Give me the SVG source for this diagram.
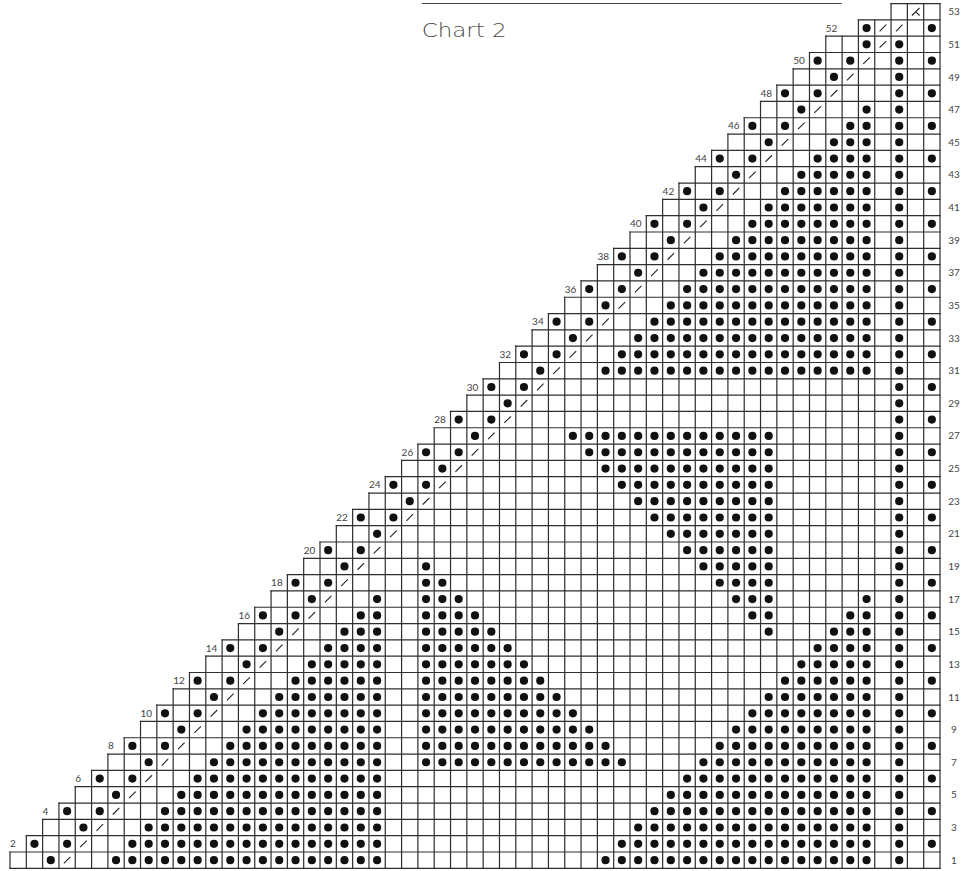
<svg xmlns="http://www.w3.org/2000/svg" width="975" height="871" viewBox="0 0 975 871">
<style>
.grid{fill:none;stroke:#2e2e2e;stroke-width:1.2;stroke-linecap:square}
.dots{fill:none;stroke:#111;stroke-width:8.2;stroke-linecap:round;stroke-dasharray:0 16.316}
.dot2{fill:none;stroke:#111;stroke-width:8.2;stroke-linecap:round}
.sl{fill:none;stroke:#222;stroke-width:1.1;stroke-linecap:butt}
.lab{font-family:Lato,'Open Sans','DejaVu Sans',sans-serif;font-size:10px;fill:#444}
.r{text-anchor:middle}
.title{font-family:'DejaVu Sans',Lato,sans-serif;font-weight:200;font-size:19.5px;fill:#4a4a4a}
</style>
<rect width="975" height="871" fill="#fff"/>
<g id="title">
<line x1="421.7" y1="3.5" x2="841.7" y2="3.5" stroke="#444" stroke-width="1"/>
<text class="title" x="421.7" y="37.4" textLength="85" lengthAdjust="spacingAndGlyphs">Chart 2</text>
</g>
<g id="grid">
<path class="grid" d="M10 868.3V851.984M26.316 868.3V835.668M42.632 868.3V819.352M58.948 868.3V803.036M75.264 868.3V786.72M91.58 868.3V770.404M107.896 868.3V754.088M124.212 868.3V737.772M140.528 868.3V721.456M156.844 868.3V705.14M173.16 868.3V688.824M189.476 868.3V672.508M205.792 868.3V656.192M222.108 868.3V639.876M238.424 868.3V623.56M254.74 868.3V607.244M271.056 868.3V590.928M287.372 868.3V574.612M303.688 868.3V558.296M320.004 868.3V541.98M336.32 868.3V525.664M352.636 868.3V509.348M368.952 868.3V493.032M385.268 868.3V476.716M401.584 868.3V460.4M417.9 868.3V444.084M434.216 868.3V427.768M450.532 868.3V411.452M466.848 868.3V395.136M483.164 868.3V378.82M499.48 868.3V362.504M515.796 868.3V346.188M532.112 868.3V329.872M548.428 868.3V313.556M564.744 868.3V297.24M581.06 868.3V280.924M597.376 868.3V264.608M613.692 868.3V248.292M630.008 868.3V231.976M646.324 868.3V215.66M662.64 868.3V199.344M678.956 868.3V183.028M695.272 868.3V166.712M711.588 868.3V150.396M727.904 868.3V134.08M744.22 868.3V117.764M760.536 868.3V101.448M776.852 868.3V85.132M793.168 868.3V68.816M809.484 868.3V52.5M825.8 868.3V36.184M842.116 868.3V36.184M858.432 868.3V19.868M874.748 868.3V19.868M891.064 868.3V3.552M907.38 868.3V3.552M923.696 868.3V3.552M940.012 868.3V3.552"/>
<path class="grid" d="M10 868.3H940.012M10 851.984H940.012M26.316 835.668H940.012M42.632 819.352H940.012M58.948 803.036H940.012M75.264 786.72H940.012M91.58 770.404H940.012M107.896 754.088H940.012M124.212 737.772H940.012M140.528 721.456H940.012M156.844 705.14H940.012M173.16 688.824H940.012M189.476 672.508H940.012M205.792 656.192H940.012M222.108 639.876H940.012M238.424 623.56H940.012M254.74 607.244H940.012M271.056 590.928H940.012M287.372 574.612H940.012M303.688 558.296H940.012M320.004 541.98H940.012M336.32 525.664H940.012M352.636 509.348H940.012M368.952 493.032H940.012M385.268 476.716H940.012M401.584 460.4H940.012M417.9 444.084H940.012M434.216 427.768H940.012M450.532 411.452H940.012M466.848 395.136H940.012M483.164 378.82H940.012M499.48 362.504H940.012M515.796 346.188H940.012M532.112 329.872H940.012M548.428 313.556H940.012M564.744 297.24H940.012M581.06 280.924H940.012M597.376 264.608H940.012M613.692 248.292H940.012M630.008 231.976H940.012M646.324 215.66H940.012M662.64 199.344H940.012M678.956 183.028H940.012M695.272 166.712H940.012M711.588 150.396H940.012M727.904 134.08H940.012M744.22 117.764H940.012M760.536 101.448H940.012M776.852 85.132H940.012M793.168 68.816H940.012M809.484 52.5H940.012M825.8 36.184H940.012M858.432 19.868H940.012M891.064 3.552H940.012"/>
</g>
<g id="dots">
<path class="dots" d="M116.054 860.142H378.1M132.37 843.826H378.1M148.686 827.51H378.1M165.002 811.194H378.1M181.318 794.878H378.1M197.634 778.562H378.1M213.95 762.246H378.1M230.266 745.93H378.1M246.582 729.614H378.1M262.898 713.298H378.1M279.214 696.982H378.1M295.53 680.666H378.1M311.846 664.35H378.1M328.162 648.034H378.1M344.478 631.718H378.1M360.794 615.402H378.1M377.11 599.086H378.1"/>
<path class="dots" d="M426.058 762.246H622.85M426.058 745.93H606.534M426.058 729.614H590.218M426.058 713.298H573.902M426.058 696.982H557.586M426.058 680.666H541.27M426.058 664.35H524.954M426.058 648.034H508.638M426.058 631.718H492.322M426.058 615.402H476.006M426.058 599.086H459.69M426.058 582.77H443.374M426.058 566.454H427.058"/>
<path class="dots" d="M605.534 860.142H867.59M621.85 843.826H867.59M638.166 827.51H867.59M654.482 811.194H867.59M670.798 794.878H867.59M687.114 778.562H867.59M703.43 762.246H867.59M719.746 745.93H867.59M736.062 729.614H867.59M752.378 713.298H867.59M768.694 696.982H867.59M785.01 680.666H867.59M801.326 664.35H867.59M817.642 648.034H867.59M833.958 631.718H867.59M850.274 615.402H867.59M866.59 599.086H867.59"/>
<path class="dots" d="M768.694 631.718H769.694M752.378 615.402H769.694M736.062 599.086H769.694M719.746 582.77H769.694M703.43 566.454H769.694M687.114 550.138H769.694M670.798 533.822H769.694M654.482 517.506H769.694M638.166 501.19H769.694M621.85 484.874H769.694M605.534 468.558H769.694M589.218 452.242H769.694M572.902 435.926H769.694"/>
<path class="dots" d="M605.534 370.662H867.59M621.85 354.346H867.59M638.166 338.03H867.59M654.482 321.714H867.59M670.798 305.398H867.59M687.114 289.082H867.59M703.43 272.766H867.59M719.746 256.45H867.59M736.062 240.134H867.59M752.378 223.818H867.59M768.694 207.502H867.59M785.01 191.186H867.59M801.326 174.87H867.59M817.642 158.554H867.59M833.958 142.238H867.59M850.274 125.922H867.59M866.59 109.606H867.59"/>
<path class="dots" d="M899.222 860.142V43.3"/>
<path class="dot2" stroke-dasharray="0 32.632" d="M931.854 843.826V27"/>
<path class="dot2" stroke-dasharray="0 23.0743" d="M50.79 860.142L867.29 43.642"/>
<path class="dot2" stroke-dasharray="0 46.1486" d="M34.474 843.826L818.342 59.958"/>
<circle cx="866.59" cy="28.026" r="4.1" fill="#111"/>
</g>
<g id="slashes">
<path class="sl" stroke-dasharray="9.334 13.7403" d="M63.806 863.442L902.522 24.726"/>
<path class="sl" d="M879.606 31.326L886.206 24.726"/>
<path class="sl" d="M911.9 15.5L919.6 7.9M915.5 11.6L919.6 15.5"/>
</g>
<g id="row-labels-odd">
<text class="lab r" x="954" y="863.6">1</text>
<text class="lab r" x="954" y="831">3</text>
<text class="lab r" x="954" y="798.4">5</text>
<text class="lab r" x="954" y="765.7">7</text>
<text class="lab r" x="954" y="733.1">9</text>
<text class="lab r" x="954" y="700.5">11</text>
<text class="lab r" x="954" y="667.9">13</text>
<text class="lab r" x="954" y="635.2">15</text>
<text class="lab r" x="954" y="602.6">17</text>
<text class="lab r" x="954" y="570">19</text>
<text class="lab r" x="954" y="537.3">21</text>
<text class="lab r" x="954" y="504.7">23</text>
<text class="lab r" x="954" y="472.1">25</text>
<text class="lab r" x="954" y="439.4">27</text>
<text class="lab r" x="954" y="406.8">29</text>
<text class="lab r" x="954" y="374.2">31</text>
<text class="lab r" x="954" y="341.5">33</text>
<text class="lab r" x="954" y="308.9">35</text>
<text class="lab r" x="954" y="276.3">37</text>
<text class="lab r" x="954" y="243.6">39</text>
<text class="lab r" x="954" y="211">41</text>
<text class="lab r" x="954" y="178.4">43</text>
<text class="lab r" x="954" y="145.7">45</text>
<text class="lab r" x="954" y="113.1">47</text>
<text class="lab r" x="954" y="80.5">49</text>
<text class="lab r" x="954" y="47.8">51</text>
<text class="lab r" x="954" y="15.2">53</text>
</g>
<g id="row-labels-even">
<text class="lab" x="10" y="847.4">2</text>
<text class="lab" x="42.6" y="814.7">4</text>
<text class="lab" x="75.3" y="782.1">6</text>
<text class="lab" x="107.9" y="749.4">8</text>
<text class="lab" x="140.5" y="716.8">10</text>
<text class="lab" x="173.2" y="684.2">12</text>
<text class="lab" x="205.8" y="651.5">14</text>
<text class="lab" x="238.4" y="618.9">16</text>
<text class="lab" x="271.1" y="586.3">18</text>
<text class="lab" x="303.7" y="553.6">20</text>
<text class="lab" x="336.3" y="521">22</text>
<text class="lab" x="369" y="488.4">24</text>
<text class="lab" x="401.6" y="455.7">26</text>
<text class="lab" x="434.2" y="423.1">28</text>
<text class="lab" x="466.8" y="390.5">30</text>
<text class="lab" x="499.5" y="357.8">32</text>
<text class="lab" x="532.1" y="325.2">34</text>
<text class="lab" x="564.7" y="292.6">36</text>
<text class="lab" x="597.4" y="260">38</text>
<text class="lab" x="630" y="227.3">40</text>
<text class="lab" x="662.6" y="194.7">42</text>
<text class="lab" x="695.3" y="162.1">44</text>
<text class="lab" x="727.9" y="129.4">46</text>
<text class="lab" x="760.5" y="96.8">48</text>
<text class="lab" x="793.2" y="64.2">50</text>
<text class="lab" x="825.8" y="31.5">52</text>
</g>
</svg>
